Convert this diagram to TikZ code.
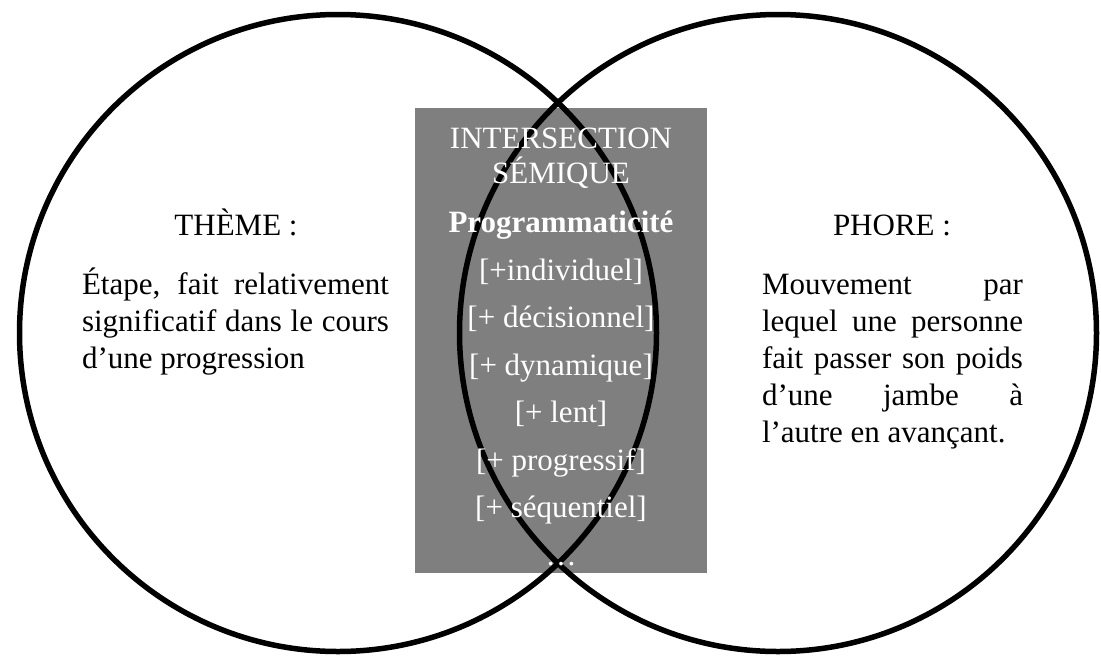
\documentclass[tikz,border=0pt]{standalone}
\usepackage{fontspec}
\setmainfont{Liberation Serif}
\definecolor{boxgray}{RGB}{127,127,127}
\begin{document}
\begin{tikzpicture}[x=1pt,y=-1pt,
  txt/.style={font=\fontsize{31}{37}\selectfont, inner sep=0pt, outer sep=0pt},
  boxtxt/.style={txt, text=white, anchor=base},
  ring/.style={draw=black, line width=5.5pt, circle, inner sep=0pt, minimum size=637pt}]
\useasboundingbox (0,0) rectangle (1101,657);
\fill[white] (0,0) rectangle (1101,657);
% grey intersection box
\node[fill=boxgray, minimum width=292pt, minimum height=465pt, inner sep=0pt, anchor=north west] (box) at (415,108) {};
% circles
\node[ring] (left) at (338,333) {};
\node[ring] (right) at (778,333) {};
% left text
\node[txt, anchor=base] (theme) at (236,235) {THÈME :};
\node[txt, anchor=base west] (t1) at (82,294.5) {\makebox[307pt][s]{Étape, fait relativement}};
\node[txt, anchor=base west] (t2) at (82,331.5) {\makebox[307pt][s]{significatif dans le cours}};
\node[txt, anchor=base west] (t3) at (82,368.5) {d’une progression};
% right text
\node[txt, anchor=base] (phore) at (892,235) {PHORE :};
\node[txt, anchor=base west] (p1) at (762,294.5) {\makebox[261pt][s]{Mouvement par}};
\node[txt, anchor=base west] (p2) at (762,331.5) {\makebox[261pt][s]{lequel une personne}};
\node[txt, anchor=base west] (p3) at (762,368.5) {\makebox[261pt][s]{fait passer son poids}};
\node[txt, anchor=base west] (p4) at (762,405.5) {\makebox[261pt][s]{d’une jambe à}};
\node[txt, anchor=base west] (p5) at (762,442.5) {l’autre en avançant.};
% box text
\node[boxtxt] (i1) at (561,148) {INTERSECTION};
\node[boxtxt] (i2) at (561,183) {SÉMIQUE};
\node[boxtxt, font=\fontsize{31}{37}\selectfont\bfseries] (i3) at (561,232) {Programmaticité};
\node[boxtxt] (i4) at (561,280) {[+individuel]};
\node[boxtxt] (i5) at (561,327.5) {[+ décisionnel]};
\node[boxtxt] (i6) at (561,375) {[+ dynamique]};
\node[boxtxt] (i7) at (561,422.5) {[+ lent]};
\node[boxtxt] (i8) at (561,470) {[+ progressif]};
\node[boxtxt] (i9) at (561,517.5) {[+ séquentiel]};
\node[boxtxt] (i10) at (561,565) {…};
\end{tikzpicture}
\end{document}
